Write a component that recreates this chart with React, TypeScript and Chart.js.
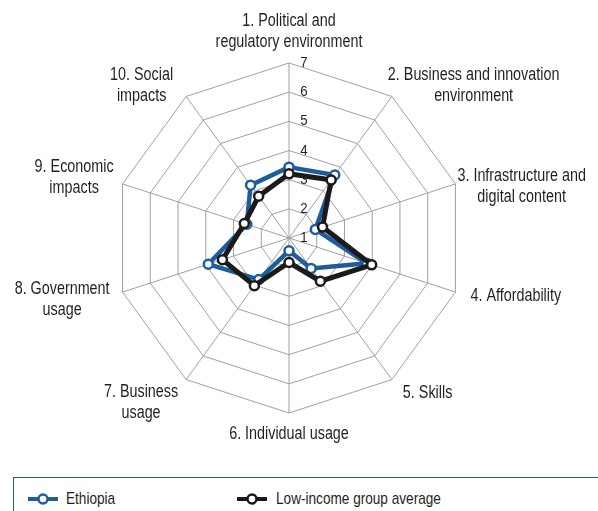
import React, { useEffect, useRef } from "react";
import { Chart, registerables } from "chart.js";

Chart.register(...registerables);

// ---- data ----
const categories: string[][] = [
  ["1. Political and", "regulatory environment"],
  ["2. Business and innovation", "environment"],
  ["3. Infrastructure and", "digital content"],
  ["4. Affordability"],
  ["5. Skills"],
  ["6. Individual usage"],
  ["7. Business", "usage"],
  ["8. Government", "usage"],
  ["9. Economic", "impacts"],
  ["10. Social", "impacts"],
];
const ethiopia = [3.43, 3.67, 1.95, 3.81, 2.29, 1.44, 2.76, 3.91, 2.52, 3.24];
const lowIncome = [3.2, 3.46, 2.21, 3.98, 2.83, 1.84, 3.02, 3.4, 2.61, 2.77];
const tickValues = [1, 2, 3, 4, 5, 6, 7];
const seriesNames = ["Ethiopia", "Low-income group average"];

// ---- styles ----
const FONT = '"Liberation Sans", Arial, sans-serif';
const NARROW = 0.82;
const TEXT = "#231f20";
const BLUE = "#1f5c9e";
const BLACK = "#1a1a1a";
const GRID = "#a0a0a0";
const LINE_H = 21;
const labelAnchor = ["center", "left", "left", "left", "left", "center", "right", "right", "right", "right"];
const labelDx = [0, -4, 2, 15, 11, 0, -8, -13, -9, -13];
const labelDy = [-31, -11, 3, 4, 14, 21, 23, 8, -6, -11];

function narrowText(ctx: CanvasRenderingContext2D, text: string, x: number, y: number, k = NARROW) {
  ctx.save();
  ctx.translate(x, y);
  ctx.scale(k, 1);
  ctx.fillText(text, 0, 0);
  ctx.restore();
}

const textPlugin = {
  id: "radarText",
  beforeDatasetsDraw(chart: any) {
    const scale = chart.scales.r;
    const ctx = chart.ctx;
    ctx.save();
    ctx.fillStyle = TEXT;
    ctx.font = `15px ${FONT}`;
    ctx.textAlign = "center";
    ctx.textBaseline = "middle";
    tickValues.forEach((v) => {
      const d = scale.getDistanceFromCenterForValue(v);
      narrowText(ctx, String(v), scale.xCenter + 15, scale.yCenter - d, 0.88);
    });
    ctx.restore();
  },
  afterDraw(chart: any) {
    const scale = chart.scales.r;
    const ctx = chart.ctx;
    ctx.save();
    ctx.fillStyle = TEXT;
    ctx.font = `17.5px ${FONT}`;
    ctx.textAlign = "center";
    ctx.textBaseline = "middle";
    const R = scale.drawingArea;
    categories.forEach((lines, i) => {
      const p = scale.getPointPosition(i, R);
      const w = Math.max(...lines.map((l) => ctx.measureText(l).width)) * NARROW;
      let cx = p.x + labelDx[i];
      if (labelAnchor[i] === "left") cx += w / 2;
      else if (labelAnchor[i] === "right") cx -= w / 2;
      const cy = p.y + labelDy[i];
      const top = cy - ((lines.length - 1) * LINE_H) / 2;
      lines.forEach((l, j) => narrowText(ctx, l, cx, top + j * LINE_H));
    });
    ctx.restore();
  },
};

function Marker({ color }: { color: string }) {
  return (
    <svg width={32} height={14} style={{ display: "block" }}>
      <line x1={1} y1={7} x2={31} y2={7} stroke={color} strokeWidth={4} />
      <circle cx={16} cy={7} r={4.5} fill="#fff" stroke={color} strokeWidth={2.5} />
    </svg>
  );
}

const legendText: React.CSSProperties = {
  display: "inline-block",
  fontFamily: FONT,
  fontSize: 16.6,
  color: TEXT,
  lineHeight: "20px",
  transform: `scaleX(${NARROW})`,
  transformOrigin: "left center",
  whiteSpace: "nowrap",
};

export default function App() {
  const ref = useRef<HTMLCanvasElement | null>(null);

  useEffect(() => {
    if (!ref.current) return;
    const chart = new Chart(ref.current, {
      type: "radar",
      data: {
        labels: categories.map((c) => c.join(" ")),
        datasets: [
          {
            label: seriesNames[0],
            data: ethiopia,
            borderColor: BLUE,
            backgroundColor: "rgba(0,0,0,0)",
            borderWidth: 4.5,
            pointRadius: 4.5,
            pointBorderWidth: 2.5,
            pointBackgroundColor: "#ffffff",
            pointBorderColor: BLUE,
            fill: false,
            order: 2,
          },
          {
            label: seriesNames[1],
            data: lowIncome,
            borderColor: BLACK,
            backgroundColor: "rgba(0,0,0,0)",
            borderWidth: 5,
            pointRadius: 4.5,
            pointBorderWidth: 2.5,
            pointBackgroundColor: "#ffffff",
            pointBorderColor: BLACK,
            fill: false,
            order: 1,
          },
        ],
      },
      options: {
        animation: false,
        responsive: false,
        maintainAspectRatio: false,
        layout: { padding: { left: 114, right: 134, top: 63, bottom: 57 } },
        plugins: { legend: { display: false }, tooltip: { enabled: false } },
        elements: { line: { tension: 0 } },
        scales: {
          r: {
            min: 1,
            max: 7,
            ticks: { display: false, stepSize: 1 },
            pointLabels: { display: false },
            grid: { color: GRID, lineWidth: 1, circular: false },
            angleLines: { color: GRID, lineWidth: 1 },
          },
        },
      },
      plugins: [textPlugin],
    });
    return () => chart.destroy();
  }, []);

  return (
    <div style={{ position: "absolute", left: 0, top: 0, width: 598, height: 511, overflow: "hidden", background: "#fff" }}>
      <canvas ref={ref} width={598} height={470} style={{ position: "absolute", left: 0, top: 0 }} />
      <div
        style={{
          position: "absolute",
          left: 13,
          top: 477,
          width: 620,
          height: 60,
          border: `1px solid ${BLUE}`,
          boxSizing: "border-box",
        }}
      />
      <div style={{ position: "absolute", left: 27, top: 489, display: "flex", alignItems: "center" }}>
        <Marker color={BLUE} />
        <span style={{ ...legendText, marginLeft: 7 }}>{seriesNames[0]}</span>
      </div>
      <div style={{ position: "absolute", left: 236, top: 489, display: "flex", alignItems: "center" }}>
        <Marker color={BLACK} />
        <span style={{ ...legendText, marginLeft: 8 }}>{seriesNames[1]}</span>
      </div>
    </div>
  );
}
